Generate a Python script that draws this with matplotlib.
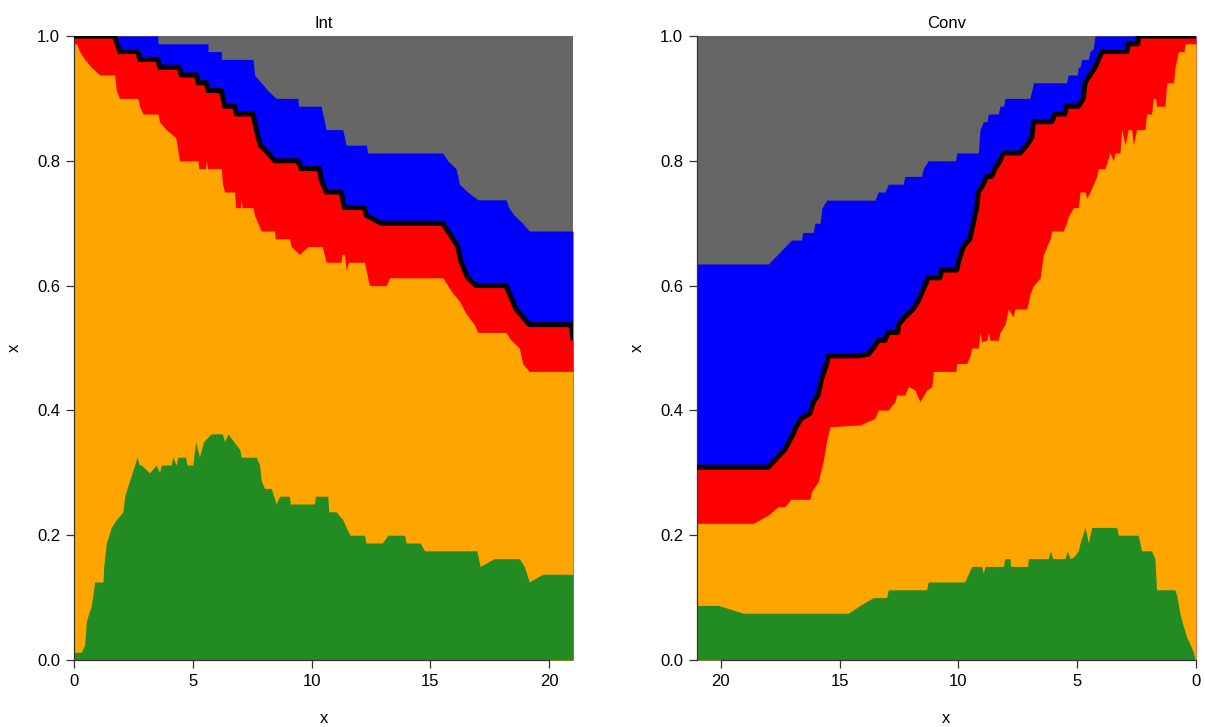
import matplotlib
matplotlib.use("Agg")
import matplotlib.pyplot as plt

plt.rcParams['font.family'] = ['Liberation Sans', 'DejaVu Sans']

# Layer colours, bottom to top
COL_GREEN = "#228B22"
COL_ORANGE = "#FFA500"
COL_RED = "#FF0000"
COL_BLUE = "#0000FF"
COL_GRAY = "#666666"

X_MAX = 21
x_ticks = [0, 5, 10, 15, 20]
y_ticks = [0.0, 0.2, 0.4, 0.6, 0.8, 1.0]
y_ticklabels = ["0.0", "0.2", "0.4", "0.6", "0.8", "1.0"]
panel_titles = ["Int", "Conv"]

# ---- Int: cumulative upper boundaries of each layer (x, y) ----
int_green_top = [
    (0, 0.0125), (0.31, 0.0125), (0.45, 0.025), (0.52, 0.0625), (0.73, 0.0875),
    (0.87, 0.125), (1.22, 0.125), (1.25, 0.15), (1.36, 0.1875), (1.57, 0.2125),
    (1.78, 0.225), (2.06, 0.2375), (2.13, 0.2625), (2.34, 0.2875), (2.55, 0.3125),
    (2.65, 0.325), (2.75, 0.3125), (2.83, 0.3125), (3.18, 0.3), (3.46, 0.3125),
    (3.6, 0.3), (3.67, 0.3125), (4.09, 0.3125), (4.16, 0.325), (4.3, 0.3125),
    (4.37, 0.325), (4.7, 0.325), (4.75, 0.3125), (5.0, 0.3125), (5.12, 0.35),
    (5.28, 0.325), (5.45, 0.35), (5.78, 0.3625), (6.24, 0.3625), (6.34, 0.35),
    (6.48, 0.3625), (6.97, 0.3375), (7.04, 0.325), (7.67, 0.325), (7.81, 0.3125),
    (7.88, 0.2875), (8.02, 0.275), (8.30, 0.275), (8.51, 0.25), (8.65, 0.2625),
    (9.07, 0.2625), (9.1, 0.25), (10.12, 0.25), (10.16, 0.2625), (10.68, 0.2625),
    (10.72, 0.2375), (11.03, 0.2375), (11.31, 0.225), (11.45, 0.2125), (11.62, 0.2),
    (12.22, 0.2), (12.29, 0.1875), (12.97, 0.1875), (13.21, 0.2), (13.91, 0.2),
    (13.98, 0.1875), (14.57, 0.1875), (14.75, 0.175), (16.95, 0.175), (17.09, 0.15),
    (17.69, 0.1625), (18.74, 0.1625), (18.95, 0.15), (19.16, 0.125), (19.72, 0.1375),
    (21, 0.1375),
]
int_orange_top = [
    (0, 0.9875), (0.1, 0.9875), (0.24, 0.975), (0.45, 0.9625), (0.73, 0.95),
    (1.08, 0.9375), (1.71, 0.9375), (1.78, 0.9125), (1.92, 0.9), (2.69, 0.9),
    (2.76, 0.8875), (2.9, 0.875), (3.53, 0.875), (3.6, 0.8625), (3.88, 0.85),
    (4.28, 0.8375), (4.44, 0.8), (5.22, 0.8), (5.25, 0.7875), (5.53, 0.7875),
    (5.57, 0.8), (5.62, 0.7875), (6.2, 0.7875), (6.25, 0.7625), (6.34, 0.75),
    (6.76, 0.75), (6.8, 0.725), (7.0, 0.725), (7.03, 0.7375), (7.08, 0.725),
    (7.53, 0.725), (7.6, 0.7125), (7.88, 0.6875), (8.44, 0.6875), (8.47, 0.675),
    (9.07, 0.675), (9.14, 0.6625), (9.49, 0.65), (9.84, 0.6625), (10.45, 0.6625),
    (10.61, 0.6375), (11.24, 0.6375), (11.28, 0.65), (11.38, 0.65), (11.45, 0.625),
    (11.55, 0.6375), (12.22, 0.6375), (12.43, 0.6), (13.14, 0.6), (13.28, 0.6125),
    (15.52, 0.6125), (15.94, 0.5875), (16.22, 0.575), (16.5, 0.555), (16.85, 0.5375),
    (16.99, 0.525), (18.18, 0.525), (18.39, 0.5125), (18.74, 0.5), (18.88, 0.475),
    (19.16, 0.4625), (21, 0.4625),
]
int_red_top = [
    (0, 1.0), (1.71, 1.0), (1.92, 0.975), (2.69, 0.975), (2.76, 0.9625),
    (3.53, 0.9625), (3.6, 0.95), (4.44, 0.95), (4.51, 0.9375), (5.15, 0.9375),
    (5.22, 0.925), (5.57, 0.925), (5.64, 0.9125), (6.2, 0.9125), (6.34, 0.8875),
    (6.76, 0.8875), (6.83, 0.875), (7.53, 0.875), (7.67, 0.85), (7.84, 0.825),
    (8.16, 0.8125), (8.44, 0.8), (9.42, 0.8), (9.56, 0.7875), (10.33, 0.7875),
    (10.4, 0.77), (10.61, 0.75), (11.24, 0.75), (11.38, 0.725), (12.22, 0.725),
    (12.3, 0.7125), (12.93, 0.7), (15.52, 0.7), (15.94, 0.675), (16.15, 0.6625),
    (16.29, 0.6375), (16.57, 0.6125), (16.92, 0.6), (18.18, 0.6), (18.6, 0.5625),
    (18.88, 0.55), (19.16, 0.5375), (20.92, 0.5375), (21, 0.5125),
]
int_blue_top = [
    (0, 1.0), (3.53, 1.0), (3.53, 0.9875), (5.64, 0.9875), (5.64, 0.975),
    (6.2, 0.975), (6.2, 0.9625), (7.53, 0.9625), (7.6, 0.9375), (7.88, 0.925),
    (8.16, 0.9125), (8.51, 0.9), (9.42, 0.9), (9.45, 0.8875), (10.4, 0.8875),
    (10.47, 0.875), (10.61, 0.85), (11.31, 0.85), (11.38, 0.8375), (11.45, 0.825),
    (12.3, 0.825), (12.35, 0.8125), (15.52, 0.8125), (15.73, 0.8), (16.08, 0.7875),
    (16.22, 0.7625), (16.57, 0.75), (17.0, 0.7375), (18.18, 0.7375), (18.3, 0.725),
    (18.53, 0.7125), (18.88, 0.7), (19.16, 0.6875), (21, 0.6875),
]

# ---- Conv: cumulative upper boundaries of each layer (x, y) ----
conv_green_top = [
    (0, 0.0), (0.04, 0.0), (0.11, 0.0125), (0.25, 0.025), (0.4, 0.0375),
    (0.54, 0.055), (0.68, 0.075), (0.82, 0.105), (0.89, 0.1125), (1.66, 0.1125),
    (1.73, 0.1625), (1.87, 0.175), (2.29, 0.175), (2.43, 0.2), (3.27, 0.2),
    (3.34, 0.2125), (4.39, 0.2125), (4.53, 0.1875), (4.67, 0.2125), (4.88, 0.1875),
    (4.95, 0.175), (5.16, 0.165), (5.3, 0.1625), (5.42, 0.175), (5.51, 0.1625),
    (6.03, 0.1625), (6.12, 0.175), (6.22, 0.1625), (7.06, 0.1625), (7.08, 0.15),
    (7.8, 0.15), (7.83, 0.1625), (8.04, 0.1625), (8.11, 0.15), (8.88, 0.15),
    (8.95, 0.139), (9.02, 0.15), (9.44, 0.15), (9.73, 0.125), (11.27, 0.125),
    (11.34, 0.1125), (12.95, 0.1125), (13.02, 0.1), (13.58, 0.1), (14.14, 0.0875),
    (14.63, 0.075), (19.05, 0.075), (20.1, 0.0875), (21, 0.0875),
]
conv_orange_top = [
    (0, 0.9875), (0.46, 0.9875), (0.5, 0.975), (0.74, 0.975), (0.81, 0.9625),
    (0.88, 0.95), (0.95, 0.925), (1.23, 0.925), (1.31, 0.8875), (1.66, 0.8875),
    (1.7, 0.9), (1.8, 0.9), (1.87, 0.875), (2.08, 0.875), (2.15, 0.85),
    (2.5, 0.85), (2.64, 0.825), (2.71, 0.85), (2.85, 0.85), (2.99, 0.825),
    (3.13, 0.85), (3.2, 0.8125), (3.41, 0.8125), (3.48, 0.8), (3.62, 0.8125),
    (3.83, 0.7875), (4.11, 0.7875), (4.18, 0.775), (4.32, 0.7625), (4.46, 0.75),
    (4.6, 0.74), (4.67, 0.75), (4.88, 0.75), (4.95, 0.725), (5.16, 0.725),
    (5.38, 0.71), (5.45, 0.7), (5.59, 0.6875), (6.07, 0.6875), (6.14, 0.675),
    (6.28, 0.6625), (6.42, 0.65), (6.56, 0.6125), (6.84, 0.6), (6.98, 0.5875),
    (7.12, 0.5625), (7.62, 0.5625), (7.7, 0.55), (7.9, 0.5625), (7.97, 0.55),
    (8.04, 0.5375), (8.25, 0.525), (8.32, 0.5125), (8.67, 0.5125), (8.74, 0.525),
    (8.81, 0.5125), (9.02, 0.51), (9.09, 0.525), (9.16, 0.5), (9.44, 0.5),
    (9.51, 0.4875), (9.65, 0.475), (10.07, 0.475), (10.1, 0.4625), (11.05, 0.4625),
    (11.12, 0.438), (11.33, 0.4327), (11.62, 0.414), (11.83, 0.4327), (12.11, 0.438),
    (12.25, 0.4247), (12.6, 0.4247), (12.67, 0.414), (12.95, 0.4006), (13.37, 0.4006),
    (13.51, 0.3873), (14.14, 0.3766), (15.4, 0.3739), (15.54, 0.3526), (15.68, 0.3205),
    (15.9, 0.2858), (16.18, 0.2698), (16.25, 0.2575), (17.05, 0.2575), (17.3, 0.2457),
    (17.58, 0.2457), (18.0, 0.2324), (18.63, 0.219), (21, 0.219),
]
conv_red_top = [
    (0, 1.0), (2.43, 1.0), (2.45, 0.9875), (2.85, 0.9875), (2.9, 0.975),
    (3.96, 0.975), (4.1, 0.9625), (4.25, 0.95), (4.46, 0.9375), (4.67, 0.925),
    (4.74, 0.9), (4.95, 0.8875), (5.45, 0.8875), (5.52, 0.875), (5.94, 0.875),
    (6.07, 0.8625), (6.84, 0.8625), (6.91, 0.8375), (7.12, 0.825), (7.4, 0.8125),
    (8.11, 0.8125), (8.25, 0.8), (8.46, 0.7875), (8.6, 0.775), (8.81, 0.775),
    (8.95, 0.7625), (9.16, 0.75), (9.23, 0.725), (9.37, 0.7), (9.52, 0.675),
    (9.79, 0.6625), (10.0, 0.6375), (10.07, 0.625), (10.71, 0.625), (10.78, 0.6125),
    (11.27, 0.6125), (11.41, 0.6), (11.55, 0.5875), (11.69, 0.575), (11.9, 0.5625),
    (12.25, 0.55), (12.52, 0.5375), (12.55, 0.525), (12.95, 0.525), (13.09, 0.5125),
    (13.37, 0.5125), (13.58, 0.5), (13.79, 0.49), (14.21, 0.4875), (15.47, 0.4875),
    (15.54, 0.475), (15.76, 0.45), (15.9, 0.425), (16.11, 0.4125), (16.25, 0.395),
    (16.6, 0.3875), (16.81, 0.375), (16.95, 0.3625), (17.3, 0.3375), (18.0, 0.309),
    (21, 0.309),
]
conv_blue_top = [
    (0, 1.0), (4.25, 1.0), (4.32, 0.98), (4.46, 0.975), (4.53, 0.9625),
    (4.81, 0.9625), (4.88, 0.95), (4.95, 0.95), (5.0, 0.9375), (5.38, 0.9375),
    (5.45, 0.925), (6.84, 0.925), (6.91, 0.9125), (7.0, 0.9), (8.04, 0.9),
    (8.1, 0.8875), (8.25, 0.8875), (8.32, 0.875), (8.74, 0.875), (8.8, 0.8625),
    (8.95, 0.8625), (9.09, 0.85), (9.16, 0.8125), (10.07, 0.8125), (10.12, 0.8),
    (11.27, 0.8), (11.48, 0.7875), (11.55, 0.775), (12.25, 0.775), (12.32, 0.7625),
    (12.95, 0.7625), (13.09, 0.75), (13.37, 0.75), (13.51, 0.737), (15.54, 0.737),
    (15.75, 0.7238), (15.82, 0.7), (16.04, 0.7), (16.11, 0.685), (16.55, 0.685),
    (16.6, 0.673), (17.02, 0.673), (18.0, 0.6346), (21, 0.6346),
]

panels = [
    (int_green_top, int_orange_top, int_red_top, int_blue_top),
    (conv_green_top, conv_orange_top, conv_red_top, conv_blue_top),
]


def unzip(points):
    return [p[0] for p in points], [p[1] for p in points]


fig = plt.figure(figsize=(12.05, 7.27), dpi=100)
axes_rects = [
    [74 / 1205, 67 / 727, 499 / 1205, 624 / 727],
    [697 / 1205, 67 / 727, 499 / 1205, 624 / 727],
]

for idx, (rect, layers, title) in enumerate(zip(axes_rects, panels, panel_titles)):
    ax = fig.add_axes(rect)
    green, orange, red, blue = layers

    # top layer fills the whole band, lower layers are painted over it
    ax.fill_between([0, X_MAX], 0, 1, color=COL_GRAY, lw=0)
    for pts, col in ((blue, COL_BLUE), (red, COL_RED), (orange, COL_ORANGE), (green, COL_GREEN)):
        xs, ys = unzip(pts)
        ax.fill_between(xs, 0, ys, color=col, lw=0)

    xs, ys = unzip(red)
    ax.plot(xs, ys, color="black", lw=3.6, solid_joinstyle="round",
            solid_capstyle="butt", zorder=5)

    ax.set_ylim(0, 1)
    if idx == 0:
        ax.set_xlim(0, X_MAX)
    else:
        ax.set_xlim(X_MAX, 0)

    ax.set_xticks(x_ticks)
    ax.set_xticklabels([str(t) for t in x_ticks])
    ax.set_yticks(y_ticks)
    ax.set_yticklabels(y_ticklabels)
    ax.tick_params(axis="both", direction="out", length=6, width=0.9,
                   labelsize=12, pad=4, color="#333333")

    for side in ("top", "right"):
        ax.spines[side].set_visible(False)
    ax.spines["bottom"].set_bounds(0, 20)
    ax.spines["left"].set_bounds(0, 1)
    for side in ("bottom", "left"):
        ax.spines[side].set_linewidth(0.9)
        ax.spines[side].set_color("#333333")

    ax.set_title(title, fontsize=12, pad=6)
    ax.set_xlabel("x", fontsize=12, labelpad=16)
    ax.set_ylabel("x", fontsize=12, labelpad=11)

fig.savefig("out.png", dpi=100)
